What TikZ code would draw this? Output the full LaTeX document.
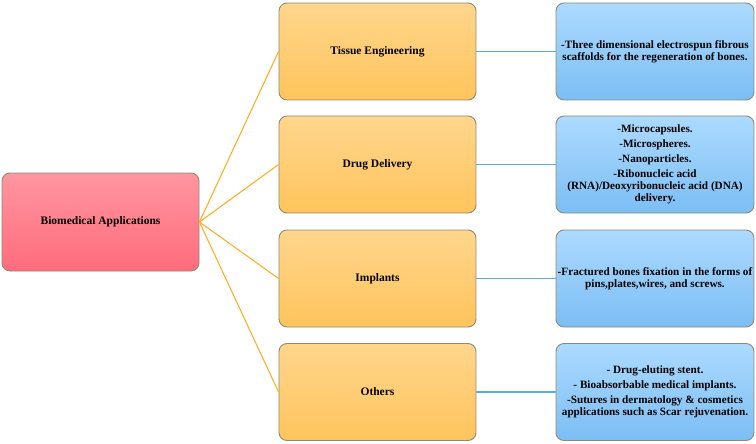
\documentclass[tikz,border=0pt]{standalone}
\usepackage{fontspec}
\setmainfont{Liberation Serif}
\definecolor{rootT}{RGB}{255,150,160}
\definecolor{rootB}{RGB}{255,108,124}
\definecolor{orT}{RGB}{255,214,140}
\definecolor{orB}{RGB}{255,196,92}
\definecolor{blT}{RGB}{172,218,255}
\definecolor{blB}{RGB}{124,190,244}
\definecolor{bord}{RGB}{140,140,118}
\definecolor{orline}{RGB}{255,176,40}
\definecolor{blline}{RGB}{90,172,228}
\tikzset{
  x=1pt,y=1pt,
  basebox/.style={draw=bord,line width=0.9pt,rounded corners=8pt,align=center,
    font=\fontsize{11.5}{12.5}\selectfont\bfseries,inner sep=2pt},
  rootbox/.style={basebox,top color=rootT,bottom color=rootB,minimum width=197,minimum height=98},
  catbox/.style={basebox,top color=orT,bottom color=orB,minimum width=197,minimum height=97},
  detbox/.style={basebox,top color=blT,bottom color=blB,minimum width=198,minimum height=97,
    inner xsep=0pt,font=\fontsize{11.2}{12.3}\selectfont\bfseries},
  orconn/.style={draw=orline,line width=1.1pt},
  blconn/.style={draw=blline,line width=1.1pt},
}
\begin{document}
\begin{tikzpicture}
\useasboundingbox (0,0) rectangle (756,-444);
\node[rootbox] (root) at (100.5,-222) {Biomedical Applications};
\node[catbox] (c1) at (377.5,-51.5) {Tissue Engineering};
\node[catbox] (c2) at (377.5,-164.5) {Drug Delivery};
\node[catbox] (c3) at (377.5,-278.5) {Implants};
\node[catbox] (c4) at (377.5,-392) {Others};
\node[detbox] (d1) at (655,-51.5) {-Three dimensional electrospun fibrous\\ scaffolds for the regeneration of bones.};
\node[detbox] (d2) at (655,-164.5) {-Microcapsules.\\[2.5pt] -Microspheres.\\[2.5pt] -Nanoparticles.\\[2.5pt] -Ribonucleic acid\\ (RNA)/Deoxyribonucleic acid (DNA)\\ delivery.};
\node[detbox] (d3) at (655,-278.5) {-Fractured bones fixation in the forms of\\ pins,plates,wires, and screws.};
\node[detbox] (d4) at (655,-392) {- Drug-eluting stent.\\[2.5pt] - Bioabsorbable medical implants.\\[2.5pt] -Sutures in dermatology \& cosmetics\\ applications such as Scar rejuvenation.};
\foreach \i in {1,2,3,4} {
  \draw[orconn] (root.east) -- (c\i.west);
  \draw[blconn] (c\i.east) -- (d\i.west);
}
\end{tikzpicture}
\end{document}
